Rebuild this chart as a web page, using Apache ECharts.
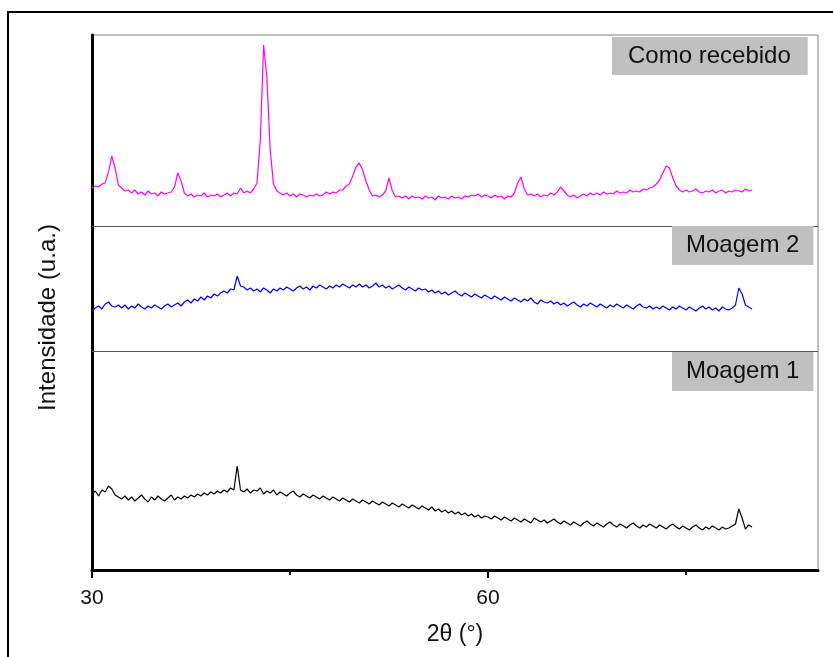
<!DOCTYPE html>
<html>
<head>
<meta charset="utf-8">
<script src="https://cdn.jsdelivr.net/npm/echarts@6/dist/echarts.min.js"></script>
<style>
  html, body { margin: 0; padding: 0; background: #fff; }
  #chart { width: 833px; height: 657px; }
</style>
</head>
<body>
<div id="chart"></div>
<script>
// varredura 2theta: 30 a 80 graus, passo 0.25
let thetaStart = 30;
let thetaStep = 0.25;

// Como recebido (magenta)
let comoRecebido = [
    382,384,383,386,387,
    398,414,402,385,382,379,380,
    377,380,376,378,375,379,376,377,374,378,376,377,
    378,383,397,389,377,
    374,376,373,375,374,377,373,375,374,376,373,375,377,374,377,376,
    382,377,379,377,381,
    387,430,525,492,420,386,379,
    377,375,377,374,376,373,376,375,373,375,374,376,374,375,378,376,378,377,380,
    380,384,386,394,403,407,400,389,380,
    374,375,373,375,379,392,379,
    373,374,372,374,371,374,372,373,371,374,372,373,370,374,372,373,371,374,372,373,371,374,373,375,
    374,376,373,375,374,372,375,373,374,371,374,373,
    377,387,393,381,
    375,376,374,376,373,375,374,377,375,378,383,379,
    375,373,375,372,374,376,374,377,375,377,375,378,376,377,376,379,377,378,377,380,378,379,378,381,
    380,382,383,386,390,397,404,402,392,384,380,
    378,380,378,379,381,378,377,379,378,380,377,379,380,377,379,378,380,379,378,381,379,380
];

// Moagem 2 (azul)
let moagem2 = [
    259,262,264,261,266,268,264,263,265,
    262,265,261,264,262,266,263,261,264,262,265,263,261,264,266,263,
    265,267,264,268,270,267,271,269,273,270,274,272,276,274,277,279,
    277,281,280,294,284,283,280,282,
    279,281,278,282,280,277,281,279,282,280,283,281,279,282,284,281,283,280,284,282,285,283,281,284,282,285,283,286,284,282,285,283,
    286,283,285,282,284,287,283,285,282,284,281,283,285,282,280,283,281,279,282,280,
    281,278,280,277,279,276,278,275,277,279,276,274,277,275,273,276,274,272,275,273,
    271,274,272,270,273,271,269,272,270,268,271,269,272,268,266,270,268,267,269,266,
    268,265,267,264,266,268,265,263,266,264,267,265,263,266,264,262,265,263,266,264,262,265,263,261,264,266,263,262,264,261,
    263,261,264,262,260,263,261,264,262,260,263,261,259,262,264,261,263,260,262,259,263,261,260,262,
    265,282,276,265,263,261
];

// Moagem 1 (preto)
let moagem1 = [
    76,79,74,80,78,84,81,75,73,
    71,74,70,73,69,72,75,71,68,73,70,74,71,69,72,75,70,73,71,
    74,72,75,73,76,74,77,75,78,76,79,77,80,78,82,80,
    104,80,
    78,81,77,80,79,82,
    76,79,77,80,75,78,76,74,77,79,75,73,76,74,72,75,73,71,74,
    72,70,73,71,69,72,70,68,71,69,67,70,68,66,69,67,65,68,66,64,67,65,63,66,64,62,65,63,61,64,
    62,60,63,59,61,58,60,57,59,56,58,55,57,54,56,53,55,52,54,53,
    51,54,52,50,53,51,49,52,50,48,51,49,47,52,50,48,50,47,49,51,
    48,46,49,47,45,48,46,44,47,49,46,44,47,45,43,46,48,45,43,46,44,42,45,47,44,42,45,43,46,44,
    42,45,43,41,44,46,43,41,44,42,40,43,45,42,40,43,41,44,42,40,43,41,42,44,
    46,61,52,41,45,43
];

// linhas de separacao entre os paineis
let separadores = [344, 219];
let majorTicks = [30, 60];
let minorTicks = [45, 75];

let fonte = 'Liberation Sans, Arial, sans-serif';

function pares(arr) {
    let out = [];
    for (let i = 0; i < arr.length; i++) {
        out.push([thetaStart + i * thetaStep, arr[i]]);
    }
    return out;
}

let chart = echarts.init(document.getElementById('chart'));

function rotulo(texto, left, top, pad) {
    return {
        text: texto,
        left: left,
        top: top,
        backgroundColor: '#c0c0c0',
        padding: pad,
        textStyle: {fontSize: 24, fontWeight: 'normal', color: '#111', fontFamily: fonte}
    };
}

let option = {
    animation: false,
    backgroundColor: '#fff',
    title: [
        rotulo('Como recebido', 612, 37, [7, 17, 7, 16]),
        rotulo('Moagem 2', 672, 226, [7, 14, 8, 14]),
        rotulo('Moagem 1', 672, 352, [7, 14, 8, 14])
    ],
    graphic: [{
        type: 'rect',
        shape: {x: 8, y: 12, width: 900, height: 800},
        style: {fill: 'none', stroke: '#000', lineWidth: 2},
        silent: true
    }],
    grid: {
        left: 92, right: 15, top: 35, bottom: 87,
        show: true, borderColor: '#808080', borderWidth: 1
    },
    xAxis: [{
        type: 'value',
        min: 30, max: 85, interval: 30,
        name: '2θ (°)',
        nameLocation: 'middle',
        nameGap: 53,
        nameTextStyle: {fontSize: 23, color: '#111', fontFamily: fonte},
        axisLine: {lineStyle: {color: '#000', width: 3}},
        axisTick: {customValues: majorTicks, length: 8, lineStyle: {color: '#000', width: 2}},
        axisLabel: {showMaxLabel: false, fontSize: 21, color: '#111', margin: 18, fontFamily: fonte},
        splitLine: {show: false}
    }, {
        type: 'value',
        min: 30, max: 85,
        position: 'bottom',
        axisLine: {show: false},
        axisTick: {customValues: minorTicks, length: 5, lineStyle: {color: '#000', width: 2}},
        axisLabel: {show: false},
        splitLine: {show: false}
    }],
    yAxis: {
        type: 'value',
        min: 0, max: 535,
        name: 'Intensidade (u.a.)',
        nameLocation: 'middle',
        nameRotate: 90,
        nameGap: 32,
        nameTextStyle: {fontSize: 24, color: '#111', fontFamily: fonte, padding: [0, 30, 0, 0]},
        axisLine: {show: true, lineStyle: {color: '#000', width: 3}},
        axisTick: {show: false},
        axisLabel: {show: false},
        splitLine: {show: false}
    },
    series: [
        {
            name: 'Como recebido',
            type: 'line',
            data: pares(comoRecebido),
            showSymbol: false,
            color: '#ff00ff',
            lineStyle: {width: 1.2},
            markLine: {
                silent: true,
                symbol: 'none',
                label: {show: false},
                lineStyle: {color: '#555', width: 1, type: 'solid'},
                data: separadores.map(function (v) { return {yAxis: v}; })
            }
        },
        {
            name: 'Moagem 2',
            type: 'line',
            data: pares(moagem2),
            showSymbol: false,
            color: '#0000ff',
            lineStyle: {width: 1.2}
        },
        {
            name: 'Moagem 1',
            type: 'line',
            data: pares(moagem1),
            showSymbol: false,
            color: '#000',
            lineStyle: {width: 1.2}
        }
    ]
};
chart.setOption(option);
window.addEventListener('resize', function () {chart.resize();});
</script>
</body>
</html>
